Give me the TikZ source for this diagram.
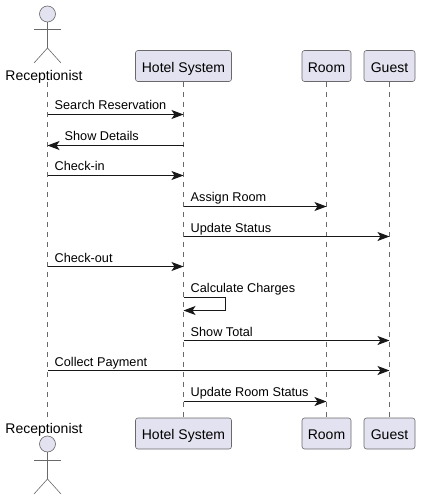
\documentclass[tikz,border=0pt]{standalone}
\usepackage{fontspec}
\setmainfont{Liberation Sans}
\usetikzlibrary{arrows.meta}
\definecolor{partfill}{HTML}{E2E2F0}
\definecolor{partline}{HTML}{181818}

\begin{document}
\begin{tikzpicture}[x=1pt,y=-1pt,
  % common options for the participant boxes:
  part/.style = {draw=partline!65, fill=partfill, rounded corners=2.5pt, line width=0.6pt,
              minimum height=31pt, inner sep=0, text height=12.5pt, text depth=0pt,
              font=\fontsize{14}{16}\selectfont},
  % common options for the actors:
  head/.style = {circle, draw=partline!65, fill=partfill, minimum size=16pt, inner sep=0, line width=0.6pt},
  limb/.style = {draw=partline!65, line width=0.6pt},
  actorname/.style = {inner sep=0, font=\fontsize{14}{16}\selectfont},
  life/.style = {draw=partline!65, line width=0.6pt, dash pattern=on 5pt off 5pt},
  msg/.style = {draw=partline, line width=1pt, -{Stealth[length=12pt,width=9pt,inset=3pt]}},
  lab/.style = {inner sep=0, anchor=base west, font=\fontsize{12.7}{14}\selectfont}
	]
  \useasboundingbox (0,0) rectangle (420,500);

  % lifelines first, the boxes cover their ends
  \coordinate (recvtop) at (47.5,82);
  \coordinate (recvbot) at (47.5,418);
  \node[part, minimum width=96pt] (hoteltop) at (183.5,66) {Hotel System};
  \node[part, minimum width=96pt] (hotelbot) at (183.5,433.5) {Hotel System};
  \node[part, minimum width=49pt] (roomtop) at (326.5,66) {Room};
  \node[part, minimum width=49pt] (roombot) at (326.5,433.5) {Room};
  \node[part, minimum width=51pt] (guesttop) at (389.5,66) {Guest};
  \node[part, minimum width=51pt] (guestbot) at (389.5,433.5) {Guest};

  \draw[life] (recvtop) -- (recvbot);
  \draw[life] (hoteltop) -- (hotelbot);
  \draw[life] (roomtop) -- (roombot);
  \draw[life] (guesttop) -- (guestbot);

  % top actor
  \node[head] (headtop) at (47.5,14) {};
  \coordinate (armtopl) at (34,29);
  \coordinate (armtopr) at (61,29);
  \coordinate (hiptop) at (47.5,48);
  \coordinate (foottopl) at (34,63);
  \coordinate (foottopr) at (61,63);
  \draw[limb] (headtop) -- (hiptop);
  \draw[limb] (armtopl) -- (armtopr);
  \draw[limb] (foottopl) -- (hiptop) -- (foottopr);
  \node[actorname] (nametop) at (44,76.5) {Receptionist};

  % bottom actor
  \node[actorname] (namebot) at (44,429.5) {Receptionist};
  \node[head] (headbot) at (47.5,444) {};
  \coordinate (armbotl) at (34,460);
  \coordinate (armbotr) at (61,460);
  \coordinate (hipbot) at (47.5,479);
  \coordinate (footbotl) at (34,494);
  \coordinate (footbotr) at (61,494);
  \draw[limb] (headbot) -- (hipbot);
  \draw[limb] (armbotl) -- (armbotr);
  \draw[limb] (footbotl) -- (hipbot) -- (footbotr);

  % message rows
  \coordinate (m1) at (0,114.5);
  \coordinate (m2) at (0,145.5);
  \coordinate (m3) at (0,175.5);
  \coordinate (m4) at (0,206.5);
  \coordinate (m5) at (0,236.5);
  \coordinate (m6) at (0,266.5);
  \coordinate (m7) at (0,297.5);
  \coordinate (m7b) at (0,310.5);
  \coordinate (m8) at (0,340.5);
  \coordinate (m9) at (0,370.5);
  \coordinate (m10) at (0,401.5);
  \coordinate (selfx) at (225.5,0);

  \draw[msg] (recvtop |- m1) -- (hoteltop |- m1);
  \node[lab] (l1) at (54.5,110) {Search Reservation};
  \draw[msg] (hoteltop |- m2) -- (recvtop |- m2);
  \node[lab] (l2) at (64.5,140) {Show Details};
  \draw[msg] (recvtop |- m3) -- (hoteltop |- m3);
  \node[lab] (l3) at (54.5,170.5) {Check-in};
  \draw[msg] (hoteltop |- m4) -- (roomtop |- m4);
  \node[lab] (l4) at (190.5,201) {Assign Room};
  \draw[msg] (hoteltop |- m5) -- (guesttop |- m5);
  \node[lab] (l5) at (190.5,232) {Update Status};
  \draw[msg] (recvtop |- m6) -- (hoteltop |- m6);
  \node[lab] (l6) at (54.5,262) {Check-out};
  \draw[msg] (hoteltop |- m7) -- (selfx |- m7) -- (selfx |- m7b) -- (hoteltop |- m7b);
  \node[lab] (l7) at (190.5,292) {Calculate Charges};
  \draw[msg] (hoteltop |- m8) -- (guesttop |- m8);
  \node[lab] (l8) at (190.5,336) {Show Total};
  \draw[msg] (recvtop |- m9) -- (guesttop |- m9);
  \node[lab] (l9) at (54.5,366) {Collect Payment};
  \draw[msg] (hoteltop |- m10) -- (roomtop |- m10);
  \node[lab] (l10) at (190.5,396) {Update Room Status};
\end{tikzpicture}
\end{document}
